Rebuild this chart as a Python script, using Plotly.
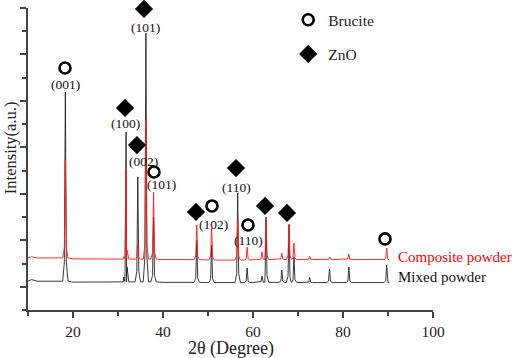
import plotly.graph_objects as go

# ---------------- data ----------------
# baselines (2θ, intensity) for each pattern
mixed_base_x = [10.0, 10.8, 12.0, 20.0, 30.0, 40.0, 50.0, 60.0, 70.0, 80.0, 90.0]
mixed_base_y = [1.24, 1.31, 1.24, 1.20, 1.21, 1.19, 1.18, 1.19, 1.18, 1.18, 1.18]
comp_base_x = [10.0, 10.8, 12.0, 20.0, 30.0, 40.0, 50.0, 60.0, 70.0, 80.0, 90.0]
comp_base_y = [2.24, 2.29, 2.24, 2.20, 2.19, 2.17, 2.15, 2.17, 2.17, 2.17, 2.17]

# peak positions (2θ) and apex intensities
peak_pos = [18.3, 31.3, 31.8, 34.4, 36.2, 37.9, 47.5, 50.8, 56.6, 58.7, 62.0, 62.9, 66.4, 68.0, 69.1, 72.6, 77.0, 81.3, 89.7]
mixed_peak = [9.38, 1.42, 7.66, 5.73, 11.92, 4.00, 3.00, 2.80, 5.04, 1.81, 1.46, 4.00, 1.72, 3.66, 2.28, 1.40, 1.76, 1.85, 1.94]
comp_peak = [6.46, 2.30, 6.03, 2.80, 8.18, 5.08, 3.66, 3.53, 3.87, 2.71, 2.50, 3.87, 2.45, 3.70, 2.88, 2.32, 2.28, 2.41, 2.67]

# phase markers (2θ, height)
brucite_x = [18.22, 38.0, 50.89, 58.89, 89.33]
brucite_y = [10.42, 5.94, 4.48, 3.66, 3.06]
zno_x = [31.56, 34.22, 35.78, 47.33, 56.22, 62.67, 67.56]
zno_y = [8.70, 7.10, 12.96, 4.22, 6.11, 4.48, 4.18]

# Miller index labels
hkl_text = ["(001)", "(100)", "(002)", "(101)", "(101)", "(102)", "(110)", "(110)"]
hkl_x = [18.44, 31.56, 35.56, 36.22, 39.56, 51.33, 56.44, 58.89]
hkl_y = [9.69, 8.01, 6.41, 12.18, 5.42, 3.66, 5.29, 3.01]

x_ticks = [20, 40, 60, 80, 100]


def build(base_x, base_y, pos, tops):
    pts = list(zip(base_x, base_y))
    def base_at(x):
        for i in range(len(base_x) - 1):
            if base_x[i] <= x <= base_x[i + 1]:
                return base_y[i]
        return base_y[-1]
    for p, h in zip(pos, tops):
        b = base_at(p)
        pts += [(p - 0.6, b), (p - 0.22, b + 0.1 * (h - b)), (p, h),
                (p + 0.22, b + 0.1 * (h - b)), (p + 0.6, b)]
    pts.sort(key=lambda t: t[0])
    return [t[0] for t in pts], [t[1] for t in pts]


mx, my = build(mixed_base_x, mixed_base_y, peak_pos, mixed_peak)
cx, cy = build(comp_base_x, comp_base_y, peak_pos, comp_peak)

FONT = "Liberation Serif, Times New Roman, serif"

fig = go.Figure()
fig.add_trace(go.Scatter(x=mx, y=my, mode="lines", name="Mixed powder",
                         line=dict(color="#222222", width=0.9), showlegend=False))
fig.add_trace(go.Scatter(x=cx, y=cy, mode="lines", name="Composite powder",
                         line=dict(color="#ff1a1a", width=0.9), showlegend=False))
fig.add_trace(go.Scatter(x=brucite_x, y=brucite_y, mode="markers", name="Brucite",
                         marker=dict(symbol="circle-open", size=11, color="black",
                                     line=dict(width=2.6, color="black")),
                         cliponaxis=False, legendgroup="b"))
fig.add_trace(go.Scatter(x=zno_x, y=zno_y, mode="markers", name="ZnO",
                         marker=dict(symbol="diamond", size=14, color="black"),
                         cliponaxis=False, legendgroup="z"))

for t, x, y in zip(hkl_text, hkl_x, hkl_y):
    fig.add_annotation(x=x, y=y, text=t, showarrow=False,
                       font=dict(family=FONT, size=13.5, color="#111"))

fig.add_annotation(x=0.9086, xref="paper", y=2.28, text="Composite powder", showarrow=False,
                   xanchor="left", font=dict(family=FONT, size=15, color="#ff0000"))
fig.add_annotation(x=0.9086, xref="paper", y=1.42, text="Mixed powder", showarrow=False,
                   xanchor="left", font=dict(family=FONT, size=15, color="#111"))

# axis titles
fig.add_annotation(x=0.5, xref="paper", y=-0.128, yref="paper", yanchor="middle",
                   text="2θ (Degree)", showarrow=False,
                   font=dict(family=FONT, size=18, color="#222"))
fig.add_annotation(x=-0.0444, xref="paper", xanchor="center", y=0.536, yref="paper",
                   text="Intensity(a.u.)", showarrow=False, textangle=-90,
                   font=dict(family=FONT, size=16.5, color="#222"))

fig.update_layout(
    width=512, height=358,
    margin=dict(l=28, r=79, t=8, b=48, autoexpand=False),
    paper_bgcolor="white", plot_bgcolor="white",
    font=dict(family=FONT, size=14, color="#222"),
    showlegend=True,
    legend=dict(x=0.6425, y=1.016, xanchor="left", yanchor="top",
                bgcolor="rgba(0,0,0,0)", tracegroupgap=11,
                font=dict(family=FONT, size=15.5, color="#222"),
                traceorder="grouped"),
    xaxis=dict(range=[10, 100], tickvals=x_ticks, ticks="outside", ticklen=6,
               tickwidth=1.5, tickcolor="#444", showline=True, linecolor="#444",
               linewidth=1.8, showgrid=False, zeroline=False, automargin=False,
               tickfont=dict(family=FONT, size=15.5, color="#222"),
               minor=dict(tick0=0, dtick=10, ticks="outside", ticklen=4,
                          tickcolor="#444", tickwidth=1.5)),
    yaxis=dict(range=[0, 13], tickvals=[1, 3, 5, 7, 9, 11, 13], showticklabels=False,
               ticks="outside", ticklen=6, tickwidth=1.5, tickcolor="#444",
               showline=True, linecolor="#444", linewidth=1.8, showgrid=False,
               zeroline=False, automargin=False,
               minor=dict(tick0=0, dtick=1, ticks="outside", ticklen=4,
                          tickcolor="#444", tickwidth=1.5)),
)

fig.write_html("out.html", config={"displayModeBar": False},
               post_script="document.body.style.margin='0';document.body.style.padding='0';document.body.style.overflow='hidden';")
